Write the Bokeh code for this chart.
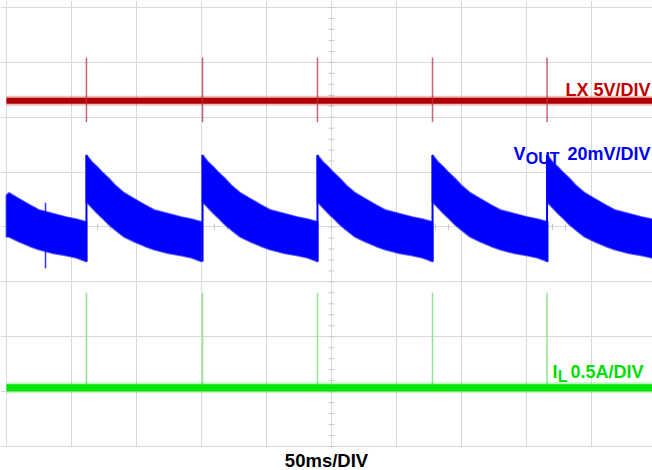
import numpy as np
from bokeh.plotting import figure
from bokeh.models import Range1d, Title, Label, FixedTicker
from bokeh.embed import file_html
from bokeh.resources import INLINE

# ---- data (time in ms, 50 ms/div; vertical in scope divisions) ----
time_span = [0.0, 500.0]
grid_t = [0, 50, 100, 150, 200, 250, 300, 350, 400, 450, 500]
grid_div = [-4, -3, -2, -1, 0, 1, 2, 3, 4]

pulse_t = [61.5, 150.8, 239.2, 327.7, 415.8]
vout_seg_start = [-27.1, 61.5, 150.8, 239.2, 327.7, 415.8]

lx_level = 2.30
lx_spike_hi = 3.09
lx_spike_lo = 1.91

il_level = -2.93
il_spike_hi = -1.20

cyc_off = [0, 4, 8, 12, 17, 22, 29, 37, 45, 52, 63, 73, 81, 88.6]
vout_hi = [1.31, 1.19, 1.10, 1.00, 0.89, 0.76, 0.62, 0.51, 0.40, 0.31, 0.24, 0.18, 0.14, 0.09]
vout_lo = [0.46, 0.36, 0.26, 0.17, 0.05, -0.05, -0.18, -0.27, -0.35, -0.41, -0.48, -0.52, -0.56, -0.63]

# band edges read at the left edge of the screen (t = 0)
vout_edge_hi = 0.58
vout_edge_lo = -0.18

glitch_t = [30.0]
glitch_hi = [0.44]
glitch_lo = [-0.75]

RED = "#B00000"
BLUE = "#0000FF"
GREEN = "#00E600"
GRID = "#D9D9D9"
FONT = "Liberation Sans"

p = figure(width=652, height=470, output_backend="svg", toolbar_location=None,
           x_range=Range1d(-4.615, 496.9), y_range=Range1d(-4.018, 4.127),
           x_axis_location=None, y_axis_location=None,
           min_border_left=0, min_border_right=0, min_border_top=0, min_border_bottom=0,
           outline_line_color=None, background_fill_color="white")

p.xgrid.ticker = FixedTicker(ticks=grid_t)
p.ygrid.ticker = FixedTicker(ticks=grid_div)
p.xgrid.grid_line_color = GRID
p.ygrid.grid_line_color = GRID
p.xgrid.grid_line_width = 1
p.ygrid.grid_line_width = 1

# center-axis minor ticks
ctr_t = grid_t[len(grid_t) // 2]
minor_div = np.arange(grid_div[0], grid_div[-1] + 0.001, 0.2)
minor_t = np.arange(grid_t[0], grid_t[-1] + 0.001, 10)
p.dash(x=[ctr_t] * len(minor_div), y=minor_div, size=6, angle=0, line_color="#C8C8C8", line_width=1)
p.dash(x=minor_t, y=[0] * len(minor_t), size=6, angle=np.pi / 2, line_color="#C8C8C8", line_width=1)

# ---- LX trace ----
p.line(time_span, [lx_level, lx_level], line_color=RED, line_width=10, line_alpha=0.25)
p.line(time_span, [lx_level, lx_level], line_color=RED, line_width=6)
p.segment(x0=pulse_t, y0=[lx_spike_lo] * len(pulse_t), x1=pulse_t, y1=[lx_spike_hi] * len(pulse_t),
          line_color="#B83048", line_width=1.5, line_alpha=0.75)

# ---- VOUT trace ----
xs, ys = [], []
t_left = time_span[0]
for t0 in vout_seg_start:
    up = [(t0 + o, v) for o, v in zip(cyc_off, vout_hi) if t0 + o >= t_left]
    lo = [(t0 + o, v) for o, v in zip(cyc_off, vout_lo) if t0 + o >= t_left]
    if t0 < t_left:
        up = [(t_left, vout_edge_hi)] + up
        lo = [(t_left, vout_edge_lo)] + lo
    xs.append([a for a, _ in up] + [a for a, _ in reversed(lo)])
    ys.append([b for _, b in up] + [b for _, b in reversed(lo)])
p.patches(xs, ys, fill_color=BLUE, line_color=BLUE, line_width=2, line_alpha=0.6)
p.segment(x0=pulse_t, y0=[vout_lo[-1]] * len(pulse_t), x1=pulse_t, y1=[vout_hi[0]] * len(pulse_t),
          line_color=BLUE, line_width=2)
p.segment(x0=glitch_t, y0=glitch_lo, x1=glitch_t, y1=glitch_hi, line_color=BLUE, line_width=1.5, line_alpha=0.8)

# ---- IL trace ----
p.segment(x0=pulse_t, y0=[il_level] * len(pulse_t), x1=pulse_t, y1=[il_spike_hi] * len(pulse_t),
          line_color="#8FE88F", line_width=1.5)
p.line(time_span, [il_level, il_level], line_color=GREEN, line_width=11, line_alpha=0.25)
p.line(time_span, [il_level, il_level], line_color=GREEN, line_width=7)

# ---- channel labels ----
def lab(x, y, text, color, size, align="left"):
    p.add_layout(Label(x=x, y=y, text=text, text_color=color, text_font=FONT,
                       text_font_size=size, text_font_style="bold",
                       text_align=align, text_baseline="alphabetic"))

lab(495.4, 2.49, "LX 5V/DIV", "#C00000", "18px", "right")
lab(390.0, 1.33, "V", "#0000F0", "18px")
lab(399.4, 1.25, "OUT", "#0000F0", "16px")
lab(495.4, 1.33, "20mV/DIV", "#0000F0", "18px", "right")
lab(420.0, -2.64, "I", "#00DD00", "18px")
lab(424.0, -2.73, "L", "#00DD00", "16px")
lab(490.0, -2.64, "0.5A/DIV", "#00DD00", "18px", "right")

p.add_layout(Title(text="50ms/DIV", align="center", text_font=FONT, text_font_size="18.5px",
                   text_font_style="bold", text_color="black", standoff=0, offset=5), "below")

open("out.html", "w").write(file_html(p, INLINE))
